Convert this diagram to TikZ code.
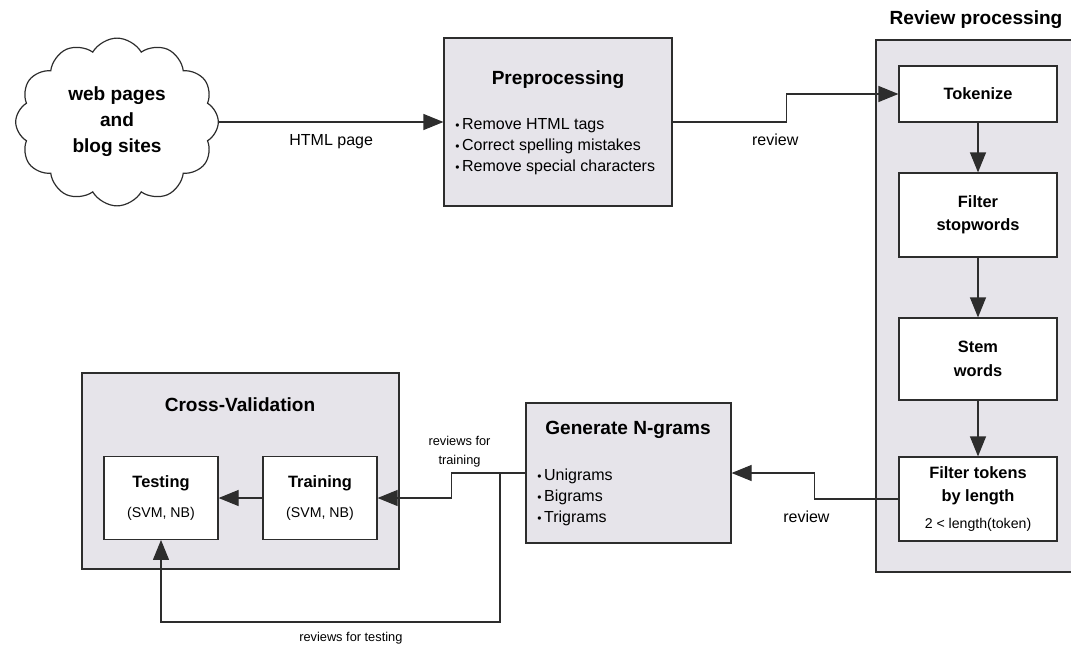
\documentclass[tikz,border=0pt]{standalone}
\usepackage{fontspec}
\setmainfont{Liberation Sans}
\usetikzlibrary{shapes.symbols,arrows.meta,positioning}

\definecolor{boxgray}{RGB}{230,228,234}
\definecolor{linegray}{RGB}{45,45,45}

\newcommand{\hdfont}{\fontsize{14.3}{19.5}\selectfont\bfseries}
\newcommand{\stepfont}{\fontsize{12.3}{17.5}\selectfont\bfseries}
\newcommand{\itemfont}{\fontsize{12}{15.75}\selectfont}
\newcommand{\notefont}{\fontsize{10.6}{13}\selectfont\mdseries}
\newcommand{\linkfont}{\fontsize{12}{14}\selectfont}
\newcommand{\smallfont}{\fontsize{9.6}{14.25}\selectfont}
\newcommand{\bul}{{\fontsize{9}{9}\selectfont\textbullet}\hspace{2pt}}

\begin{document}
\begin{tikzpicture}[x=0.75pt,y=-0.75pt,
    group/.style={draw=linegray,line width=0.9pt,fill=boxgray},
    stage/.style={group,inner sep=0},
    proc/.style={draw=linegray,line width=0.9pt,fill=white,align=center,
      font=\stepfont,inner sep=0,minimum width=118.5pt},
    link/.style={draw=linegray,line width=0.9pt,-{Triangle[length=15pt,width=12pt]}},
    lbl/.style={font=\smallfont,inner sep=0,align=center}]
  \useasboundingbox (0,0) rectangle (1071,646);

  % source and cleaning
  \node[cloud,cloud puffs=12,cloud puff arc=120,draw=linegray,line width=0.9pt,
    minimum width=152pt,minimum height=125pt,align=center,font=\hdfont]
    (web) at (117,122) {web pages\\and\\blog sites};
  \node[stage,minimum width=171pt,minimum height=126pt] (pre) at (558,122) {};
  \node[font=\hdfont] (pretitle) at (558,80) {Preprocessing};
  \node[font=\itemfont,align=left,anchor=west,inner sep=0] (prelist) at (455,147)
    {\bul Remove HTML tags\\ \bul Correct spelling mistakes\\ \bul Remove special characters};

  % review processing column
  \draw[group] (876,40) rectangle (1080,572);
  \node[font=\hdfont] (revtitle) at (976,20) {Review processing};
  \node[proc,minimum height=42pt] (tok) at (978,94) {Tokenize};
  \node[proc,minimum height=63pt] (stop) at (978,215) {Filter\\stopwords};
  \node[proc,minimum height=61.5pt] (stem) at (978,359) {Stem\\words};
  \node[proc,minimum height=63pt] (len) at (978,499)
    {Filter tokens\\by length\\[2.5pt]{\notefont 2 < length(token)}};

  % n-grams
  \node[stage,minimum width=153.75pt,minimum height=105pt] (gen) at (628.5,473) {};
  \node[font=\hdfont] (gentitle) at (628,430) {Generate N-grams};
  \node[font=\itemfont,align=left,anchor=west,inner sep=0] (genlist) at (537,497)
    {\bul Unigrams\\ \bul Bigrams\\ \bul Trigrams};

  % cross-validation
  \draw[group] (82,373) rectangle (399,569);
  \node[font=\hdfont] (cvtitle) at (240,405) {Cross-Validation};
  \node[proc,minimum width=85.5pt,minimum height=62pt] (test) at (161,498)
    {Testing\\[4.5pt]{\notefont (SVM, NB)}};
  \node[proc,minimum width=85.5pt,minimum height=62pt] (train) at (320,498)
    {Training\\[4.5pt]{\notefont (SVM, NB)}};
  \coordinate (split) at (500,473);

  \draw[link] (web.east) -- (pre.west) node[midway,yshift=-15pt,font=\linkfont] {HTML page};
  \draw[link] (pre.east) -- ++(114,0) node[pos=0.9,yshift=-13.5pt,font=\linkfont] {review}
    |- (tok.west);
  \draw[link] (tok) -- (stop);
  \draw[link] (stop) -- (stem);
  \draw[link] (stem) -- (len);
  \draw[link] (len.west) -- ++(-84,0) node[pos=1,xshift=-6pt,yshift=-13.5pt,font=\linkfont] {review}
    |- (gen.east);
  \draw[link] (gen.west) -- ++(-74,0) node[pos=0.89,yshift=15.75pt,lbl] {reviews for\\training}
    |- (train.east);
  \draw[link] (split) -- ++(0,149) -| (test.south) node[pos=0.22,yshift=-12pt,lbl] {reviews for testing};
  \draw[link] (train) -- (test);
\end{tikzpicture}
\end{document}
